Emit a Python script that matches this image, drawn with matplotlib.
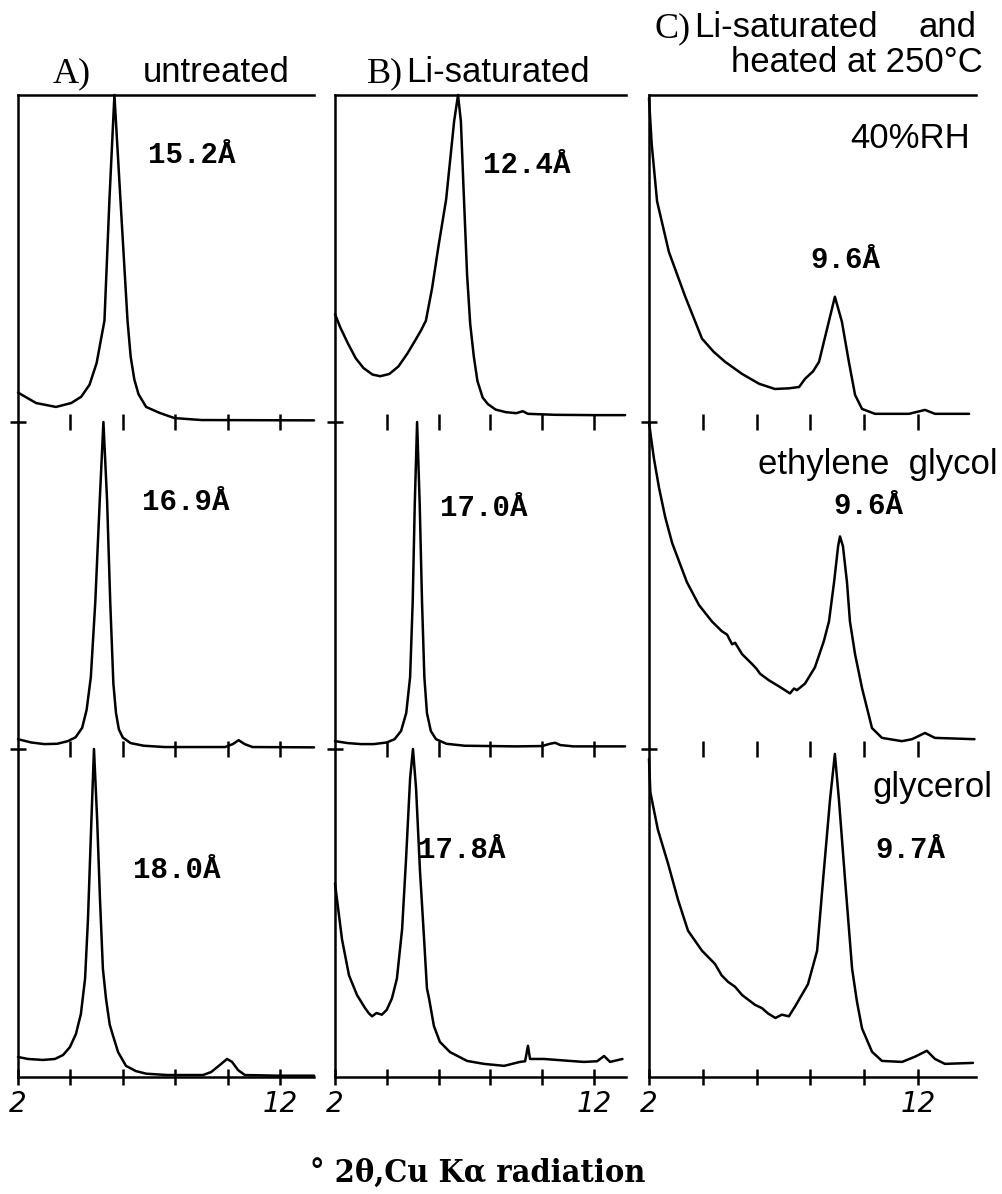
import os
import matplotlib
matplotlib.use("Agg")
import matplotlib.pyplot as plt
from matplotlib import font_manager

# 2-theta (deg) and relative intensity (% of panel height) for every trace
# A) untreated
a1_tt = [2.0, 2.69, 3.45, 4.03, 4.41, 4.73, 5.0, 5.3, 5.49, 5.68, 5.91, 6.18, 6.3, 6.44, 6.6, 6.89, 7.4, 7.97, 9.0, 13.3]
a1_i = [9.0, 5.8, 4.6, 5.8, 7.7, 11.4, 18, 31, 68, 100, 68, 31, 20, 13, 8.5, 4.6, 2.8, 1.2, 0.6, 0.5]
a2_tt = [2.0, 2.5, 3.0, 3.5, 3.9, 4.2, 4.45, 4.62, 4.78, 4.95, 5.12, 5.26, 5.4, 5.52, 5.64, 5.74, 5.85, 6.0, 6.3, 6.8, 7.6,
         9.9, 10.2, 10.42, 10.65, 10.95, 13.3]
a2_i = [3.0, 2.0, 1.5, 1.6, 2.4, 3.6, 6.5, 12, 22, 45, 76, 100, 76, 45, 20, 11, 6, 3.5, 1.8, 1.0, 0.6,
        0.6, 1.5, 2.7, 1.5, 0.6, 0.5]
a3_tt = [2.0, 2.38, 2.95, 3.41, 3.72, 3.98, 4.21, 4.4, 4.56, 4.67, 4.79, 4.9, 5.02, 5.13, 5.24, 5.36, 5.5, 5.63, 5.82,
         6.12, 6.5, 6.9, 7.7, 9.06, 9.37, 9.71, 9.98, 10.17, 10.4, 10.66, 11.9, 13.3]
a3_i = [6.1, 5.5, 5.2, 5.5, 6.7, 9.1, 13.1, 19.2, 30, 48, 75.6, 100, 78.7, 54, 33, 23.8, 16, 12.5, 7.6,
        3.4, 1.8, 1.0, 0.6, 0.6, 1.5, 3.7, 5.5, 4.6, 2.1, 0.6, 0.4, 0.4]

# B) Li-saturated
b1_tt = [2.0, 2.2, 2.5, 2.8, 3.1, 3.45, 3.75, 4.1, 4.45, 4.8, 5.1, 5.32, 5.51, 5.75, 6.0, 6.29, 6.6, 6.75, 6.86, 6.97,
         7.1, 7.22, 7.36, 7.5, 7.7, 7.9, 8.2, 8.6, 9.0, 9.25, 9.45, 10.5, 12.0, 13.2]
b1_i = [33, 29, 24, 19.5, 16.5, 14.5, 14, 14.7, 17, 21, 25, 28, 31, 41, 54, 68, 92, 100, 92, 70,
        45, 30, 20, 12.5, 7.5, 5.5, 3.8, 3.0, 2.7, 3.3, 2.5, 2.2, 2.1, 2.1]
b2_tt = [2.0, 2.5, 3.0, 3.5, 4.0, 4.3, 4.55, 4.75, 4.9, 5.0, 5.08, 5.17, 5.27, 5.36, 5.45, 5.55, 5.7, 5.9, 6.3, 7.0,
         9.0, 10.0, 10.3, 10.5, 10.7, 11.2, 13.2]
b2_i = [2.4, 1.8, 1.5, 1.5, 2.0, 3.0, 5.5, 11, 22, 45, 75, 100, 75, 45, 22, 11, 5.5, 3, 1.6, 1.0,
        0.8, 0.9, 1.6, 1.9, 1.2, 0.8, 0.8]
b3_tt = [2.0, 2.27, 2.54, 2.85, 3.16, 3.3, 3.43, 3.6, 3.81, 4.0, 4.2, 4.39, 4.59, 4.74, 4.9, 5.01, 5.13, 5.28, 5.44,
         5.55, 5.63, 5.82, 6.05, 6.44, 7.1, 7.75, 8.53, 9.14, 9.34, 9.45, 9.53, 10.07, 11.07, 11.61, 12.12, 12.39,
         12.62, 13.1]
b3_i = [59, 42, 31, 25, 21, 19.5, 18.5, 19.5, 19, 20.5, 24, 30, 45, 66, 91, 100, 88, 63, 42,
        27, 24, 15.5, 10.7, 7.6, 4.9, 4.0, 3.4, 4.6, 4.8, 9.5, 5.5, 5.5, 4.9, 4.6, 4.8, 6.4,
        4.6, 5.5]

# C) Li-saturated and heated at 250 C
c1_tt = [2.0, 2.1, 2.3, 2.74, 3.34, 3.97, 4.4, 4.83, 5.46, 6.09, 6.68, 7.2, 7.58, 7.8, 8.1, 8.32, 8.62, 8.91, 9.17,
         9.43, 9.66, 9.92, 10.4, 11.67, 12.26, 12.63, 13.9]
c1_i = [99, 85, 67.5, 52, 38.5, 25.5, 21.5, 18.4, 14.7, 11.7, 10.1, 10.3, 10.7, 13.2, 15.5, 18.4, 28.5, 38.3, 30.7,
        18.4, 8.3, 4.0, 2.5, 2.5, 3.7, 2.5, 2.5]
c2_tt = [2.0, 2.08, 2.18, 2.37, 2.6, 2.86, 3.41, 3.86, 4.34, 4.71, 4.9, 5.09, 5.2, 5.46, 5.83, 6.0, 6.13, 6.46, 6.76,
         6.94, 7.24, 7.39, 7.5, 7.8, 8.17, 8.5, 8.69, 8.88, 9.03, 9.1, 9.21, 9.36, 9.47, 9.66, 9.92, 10.29, 10.66,
         11.4, 11.78, 12.26, 12.63, 14.1]
c2_i = [100, 95, 89, 80, 71, 63, 51, 44, 39, 36, 35, 32, 32.5, 29, 26, 24.5, 23, 21, 19.5,
        18.6, 17, 18.5, 18, 20, 25, 33, 39, 51, 62, 65, 62, 51, 39, 29, 18.6, 6.4, 3.4,
        2.4, 3, 4.9, 3.4, 3]
c3_tt = [2.0, 2.05, 2.33, 2.71, 3.08, 3.45, 3.97, 4.45, 4.7, 4.94, 5.2, 5.46, 5.7, 5.94, 6.2, 6.42, 6.7, 6.94, 7.2,
         7.43, 7.91, 8.25, 8.47, 8.73, 8.91, 9.06, 9.29, 9.55, 9.73, 9.92, 10.29, 10.66, 11.41, 11.89, 12.33, 12.63,
         13.0, 14.04]
c3_i = [97, 86.8, 75.4, 65, 54, 44.6, 38.5, 34.5, 31, 29, 27.5, 25, 23.5, 22, 21, 19.4, 18, 19, 18.5,
        21.5, 28.3, 38.5, 60, 84.6, 98.5, 84.6, 60, 33, 23, 14.8, 7.7, 4.9, 4.6, 6.2, 8, 5.5,
        4.0, 4.3]

columns = [
    [(a1_tt, a1_i), (a2_tt, a2_i), (a3_tt, a3_i)],
    [(b1_tt, b1_i), (b2_tt, b2_i), (b3_tt, b3_i)],
    [(c1_tt, c1_i), (c2_tt, c2_i), (c3_tt, c3_i)],
]
bottom_ticks = [2, 4, 6, 8, 10, 12]
bottom_labels = ["2", "", "", "", "", "12"]

W, H = 1002, 1194
# panel geometry in pixels: left edge, right edge, pixels per degree
col_geom = [(18, 314, 26.2), (335, 626, 25.9), (649, 976, 26.9)]
row_edges = [95, 422, 749, 1077]

fig = plt.figure(figsize=(W / 100, H / 100), dpi=100)
fig.patch.set_facecolor("white")

LW = 1.8
for c, traces in enumerate(columns):
    left, right, ppd = col_geom[c]
    xmax = 2 + (right - left) / ppd
    for r, (tt, inten) in enumerate(traces):
        top, bot = row_edges[r], row_edges[r + 1]
        ax = fig.add_axes([left / W, 1 - bot / H, (right - left) / W, (bot - top) / H])
        ax.plot(tt, inten, color="black", lw=1.8, clip_on=False,
                solid_joinstyle="round", solid_capstyle="round")
        ax.set_xlim(2, xmax)
        ax.set_ylim(0, 100)
        ax.patch.set_alpha(0)
        ax.spines["right"].set_visible(False)
        ax.spines["top"].set_visible(r == 0)
        ax.spines["bottom"].set_visible(r == 2)
        for s in ax.spines.values():
            s.set_linewidth(LW)
        ax.tick_params(axis="both", direction="inout", length=11, width=LW, colors="black")
        if r == 2:
            ax.set_xticks(bottom_ticks)
            ax.set_xticklabels(bottom_labels, fontsize=20, style="italic", family="DejaVu Sans")
            ax.tick_params(axis="x", pad=4)
            ax.set_yticks([])
        else:
            ax.set_xticks(bottom_ticks[1:])
            ax.set_xticklabels([])
            ax.set_yticks([0])
            ax.set_yticklabels([])


def put(x, y, s, **kw):
    kw.setdefault("va", "baseline")
    fig.text(x / W, 1 - y / H, s, **kw)


sans = dict(family="Liberation Sans", fontsize=25)
serif = dict(family="Liberation Serif", fontsize=26)
mono = dict(family="Liberation Mono", fontsize=21, weight="bold")

# column headings
put(53, 82, "A)", **serif)
put(143, 82, "untreated", **sans)
put(367, 82, "B)", **serif)
put(406, 82, "Li-saturated", **sans)
put(655, 37, "C)", **serif)
put(694, 37, "Li-saturated", **sans)
put(977, 37, "and", ha="right", **sans)
put(983, 72, "heated at 250°C", ha="right", **sans)

# treatments of the heated sample
put(970, 148, "40%RH", ha="right", **sans)
put(998, 474, "ethylene  glycol", ha="right", **sans)
put(993, 797, "glycerol", ha="right", **sans)

# d-spacings of the main reflections
put(148, 163, "15.2Å", **mono)
put(483, 173, "12.4Å", **mono)
put(810, 268, "9.6Å", **mono)
put(142, 510, "16.9Å", **mono)
put(440, 516, "17.0Å", **mono)
put(833, 514, "9.6Å", **mono)
put(133, 878, "18.0Å", **mono)
put(418, 858, "17.8Å", **mono)
put(875, 858, "9.7Å", **mono)


# axis title in a narrow serif face when one is installed
def find_font(*keys):
    for f in font_manager.fontManager.ttflist:
        base = os.path.basename(f.fname)
        if all(k in base for k in keys):
            return font_manager.FontProperties(fname=f.fname)
    return None


title_font = (find_font("SerifCondensed-Bold") or find_font("SansNarrow-Bold")
              or font_manager.FontProperties(family="Liberation Serif", weight="bold"))
title_font.set_size(30)
t = fig.text(478 / W, 1 - 1183 / H, "° 2θ,Cu Kα radiation", fontproperties=title_font,
             ha="center", va="baseline")
fig.canvas.draw()
width = t.get_window_extent().width
title_font.set_size(30 * 335 / width)
t.set_fontproperties(title_font)

fig.savefig("out.png", dpi=100, facecolor="white")
